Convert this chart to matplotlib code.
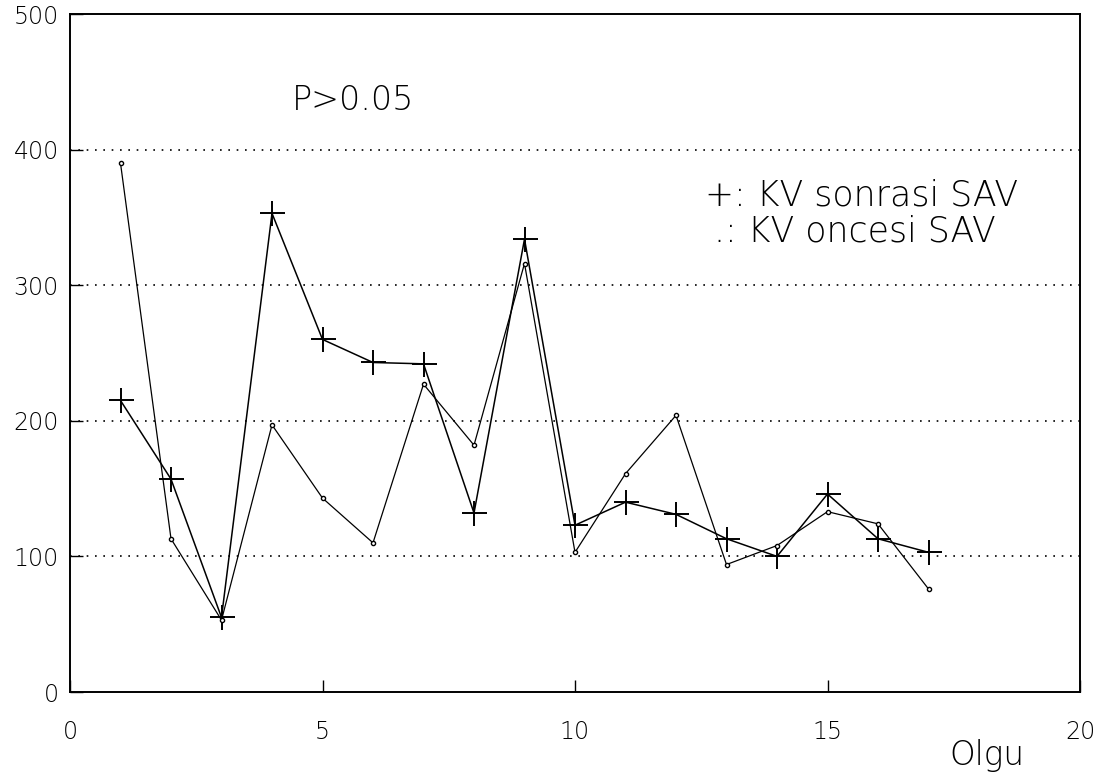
import matplotlib
matplotlib.use("Agg")
import matplotlib.pyplot as plt

# Data
olgu = list(range(1, 18))
kv_sonrasi = [215, 157, 55, 353, 260, 243, 242, 132, 334, 123, 140, 131, 113, 100, 146, 113, 103]
kv_oncesi = [390, 113, 53, 197, 143, 110, 227, 182, 316, 103, 161, 204, 94, 108, 133, 124, 76]
xticks = [0, 5, 10, 15, 20]
yticks = [0, 100, 200, 300, 400, 500]
grid_levels = [100, 200, 300, 400]

plt.rcParams['font.family'] = ['DejaVu Sans']
plt.rcParams['font.weight'] = 'light'

W, H = 1108, 778
fig = plt.figure(figsize=(W / 100, H / 100), dpi=100)
ax = fig.add_axes([70 / W, 1 - 692 / H, 1010 / W, 678 / H])

for g in grid_levels:
    ax.axhline(g, color='black', linestyle=(0, (1, 4)), linewidth=1.2, zorder=1)

ax.plot(olgu, kv_sonrasi, color='black', linewidth=1.1, marker='+',
        markersize=18, markeredgewidth=1.4, zorder=3)
ax.plot(olgu, kv_oncesi, color='black', linewidth=0.9, marker='o',
        markersize=3, markerfacecolor='white', markeredgewidth=1.0, zorder=3)

ax.set_xlim(0, 20)
ax.set_ylim(0, 500)
ax.set_xticks(xticks)
ax.set_yticks(yticks)
ax.set_xticklabels([str(t) for t in xticks])
ax.set_yticklabels([str(t) for t in yticks])
ax.tick_params(axis='x', direction='in', length=9, width=1, pad=20, labelsize=17)
ax.tick_params(axis='y', direction='in', length=9, width=1, pad=8, labelsize=17)
for s in ax.spines.values():
    s.set_linewidth(1.4)
    s.set_color('black')

fig.text(292 / W, 1 - 100 / H, 'P>0.05', fontsize=24, ha='left', va='center')
fig.text(705 / W, 1 - 195 / H, '+: KV sonrasi SAV', fontsize=25, ha='left', va='center')
fig.text(714 / W, 1 - 232 / H, '.: KV oncesi SAV', fontsize=25, ha='left', va='center')
fig.text(987 / W, 1 - 755 / H, 'Olgu', fontsize=23.5, ha='center', va='center')

fig.savefig('out.png', dpi=100)
